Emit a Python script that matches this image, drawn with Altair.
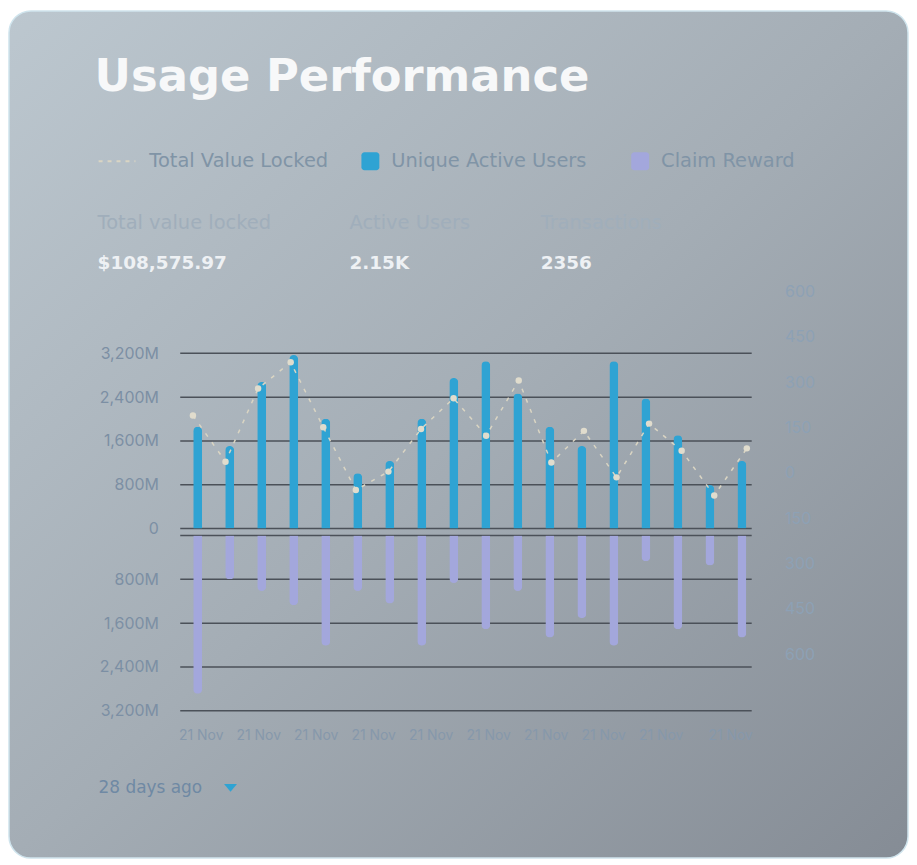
import altair as alt
import pandas as pd

# ---------------- data ----------------
idx = list(range(18))
users = [1860, 1509, 2678, 3169, 2006, 1012, 1236, 2006, 2751, 3055, 2467, 1860, 1509, 3055, 2376, 1703, 794, 1236]
claims = [2891, 800, 1012, 1273, 2012, 1012, 1242, 2012, 867, 1709, 1012, 1860, 1509, 2012, 467, 1709, 545, 1860]
tvl = [190, 37, 279, 366, 151, -57, 4, 145, 247, 123, 306, 34, 139, -15, 163, 73, -75, 81]

left_ticks_top = [0, 800, 1600, 2400, 3200]
left_ticks_bottom = [800, 1600, 2400, 3200]
grid_bottom = [0, 800, 1600, 2400, 3200]
right_ticks = [-600, -450, -300, -150, 0, 150, 300, 450, 600]
x_tick_pos = [0, 1, 2, 3, 4, 5, 6, 7, 8, 9.21]
x_tick_label = "21 Nov"

title = "Usage Performance"
legend_names = ["Total Value Locked", "Unique Active Users", "Claim Reward"]
stat_labels = ["Total value locked", "Active Users", "Transactions"]
stat_values = ["$108,575.97", "2.15K", "2356"]
period = "28 days ago"

W, H = 905, 853
FONT = "Inter"
WIDE = "DejaVu Sans"
BLUE = "#2fa3d3"
LILAC = "#a3a7dc"
LINEC = "#dad5c3"

df = pd.DataFrame({"i": idx, "users": users, "claims": claims, "tvl": tvl})
one = pd.DataFrame({"a": [0]})

xs = alt.Scale(domain=[-0.39, 17.15], range=[173, 747], zero=False, nice=False)
ys_top = alt.Scale(domain=[0, 3200], range=[521, 345], nice=False)
ys_bot = alt.Scale(domain=[0, 3200], range=[528, 704], nice=False)
ys_r = alt.Scale(domain=[-600, 600], range=[647, 283], nice=False)

lab_expr = "datum.value == 0 ? '0' : format(datum.value, ',') + 'M'"


def left_axis(vals):
    return alt.Axis(orient="left", values=vals, labelExpr=lab_expr, offset=-151,
                    domain=False, ticks=False, tickSize=0, grid=False, labelPadding=0,
                    title=None, labelFontSize=16, labelColor="#7c8fa4", labelFont=FONT,
                    labelOverlap=False, zindex=2)


card = alt.Chart(one).mark_rect(
    cornerRadius=22,
    color=alt.LinearGradient(
        gradient="linear",
        stops=[alt.GradientStop(color="#bcc7cf", offset=0),
               alt.GradientStop(color="#a4adb5", offset=0.5),
               alt.GradientStop(color="#858c95", offset=1)],
        x1=0, y1=0, x2=1, y2=1),
    stroke="#cfe4ed", strokeWidth=1.5,
).encode(x=alt.value(1), x2=alt.value(W - 1), y=alt.value(1), y2=alt.value(H - 1))

grid_t = alt.Chart(pd.DataFrame({"v": left_ticks_top})).mark_rule(
    color="#4b5159", strokeWidth=1.5
).encode(y=alt.Y("v:Q", scale=ys_top, axis=None), x=alt.value(173), x2=alt.value(747))

grid_b = alt.Chart(pd.DataFrame({"v": grid_bottom})).mark_rule(
    color="#4b5159", strokeWidth=1.5
).encode(y=alt.Y("v:Q", scale=ys_bot, axis=None), x=alt.value(173), x2=alt.value(747))

bars_top = alt.Chart(df).mark_bar(
    size=9, color=BLUE, cornerRadiusTopLeft=4.5, cornerRadiusTopRight=4.5
).encode(
    x=alt.X("i:Q", scale=xs, axis=None),
    y=alt.Y("users:Q", scale=ys_top, axis=left_axis(left_ticks_top)),
)

bars_bot = alt.Chart(df).mark_bar(
    size=9, color=LILAC, cornerRadiusBottomLeft=4.5, cornerRadiusBottomRight=4.5
).encode(
    x=alt.X("i:Q", scale=xs, axis=None),
    y=alt.Y("claims:Q", scale=ys_bot, axis=left_axis(left_ticks_bottom)),
)

line = alt.Chart(df).mark_line(color=LINEC, strokeDash=[4, 7], strokeWidth=1.5).encode(
    x=alt.X("i:Q", scale=xs, axis=None),
    y=alt.Y("tvl:Q", scale=ys_r, axis=alt.Axis(
        orient="right", values=right_ticks, labelExpr="format(abs(datum.value), 'd')",
        offset=-125, domain=False, ticks=False, tickSize=0, grid=False, labelPadding=0,
        title=None, labelFontSize=16, labelColor="#8da1b5", labelFont=FONT,
        labelOverlap=False, zindex=2)),
)

points = alt.Chart(df).mark_circle(size=42, color="#e0dccd", opacity=1).encode(
    x=alt.X("i:Q", scale=xs, axis=None),
    y=alt.Y("tvl:Q", scale=ys_r, axis=None),
)

xlab = alt.Chart(pd.DataFrame({"p": x_tick_pos})).mark_point(opacity=0).encode(
    x=alt.X("p:Q", scale=alt.Scale(domain=[0, 9.3], range=[193.6, 193.6 + 9.3 * 57.74],
                                   nice=False, zero=False),
            axis=alt.Axis(orient="bottom", values=x_tick_pos, labelExpr="'" + x_tick_label + "'",
                          offset=-123.7, labelBaseline="middle", labelPadding=0,
                          domain=False, ticks=False, tickSize=0, grid=False, title=None,
                          labelFontSize=14, labelColor="#8698ab", labelFont=FONT,
                          labelOverlap=False, labelFlush=False, zindex=2)),
    y=alt.value(729),
)


def txt(s, x, y, size, color, weight="normal", align="left", baseline="middle", font=WIDE):
    return alt.Chart(one).mark_text(
        text=s, align=align, baseline=baseline, fontSize=size, font=font,
        fontWeight=weight, color=color
    ).encode(x=alt.value(x), y=alt.value(y))


texts = [
    txt(title, 87, 81, 45, "#f7f8f9", weight="bold", baseline="alphabetic"),
    txt(legend_names[0], 142, 152, 19.5, "#8094a6"),
    txt(legend_names[1], 385, 152, 19.5, "#8094a6"),
    txt(legend_names[2], 656, 152, 19.5, "#8094a6"),
    txt(stat_labels[0], 90, 214, 19.5, "#a0aebb"),
    txt(stat_labels[1], 343, 214, 19.5, "#a0aebb"),
    txt(stat_labels[2], 535, 214, 19.5, "#a0aebb"),
    txt(stat_values[0], 90, 254, 18.5, "#eef1f4", weight="bold"),
    txt(stat_values[1], 343, 254, 18.5, "#eef1f4", weight="bold"),
    txt(stat_values[2], 535, 254, 18.5, "#eef1f4", weight="bold"),
    txt(period, 91, 782, 17, "#6f89a4"),
]

leg_dash = alt.Chart(one).mark_rule(color=LINEC, strokeDash=[4, 5], strokeWidth=2).encode(
    x=alt.value(91), x2=alt.value(128), y=alt.value(152))
leg_sq1 = alt.Chart(one).mark_rect(cornerRadius=3, color=BLUE).encode(
    x=alt.value(355), x2=alt.value(373), y=alt.value(143), y2=alt.value(161))
leg_sq2 = alt.Chart(one).mark_rect(cornerRadius=3, color=LILAC).encode(
    x=alt.value(626), x2=alt.value(644), y=alt.value(143), y2=alt.value(161))
tri = alt.Chart(one).mark_point(
    shape="M-1,-0.6L1,-0.6L0,0.6Z", filled=True, size=169, color=BLUE, opacity=1
).encode(x=alt.value(223.5), y=alt.value(781.5))

chart = alt.layer(
    card, grid_t, grid_b, bars_top, bars_bot, line, points, xlab,
    leg_dash, leg_sq1, leg_sq2, tri, *texts
).resolve_scale(x="independent", y="independent").properties(
    width=W, height=H, autosize=alt.AutoSizeParams(type="none"), padding=0,
    background="white"
).configure_view(stroke=None)

chart.save("out.html", embed_options={"renderer": "svg", "actions": False})
